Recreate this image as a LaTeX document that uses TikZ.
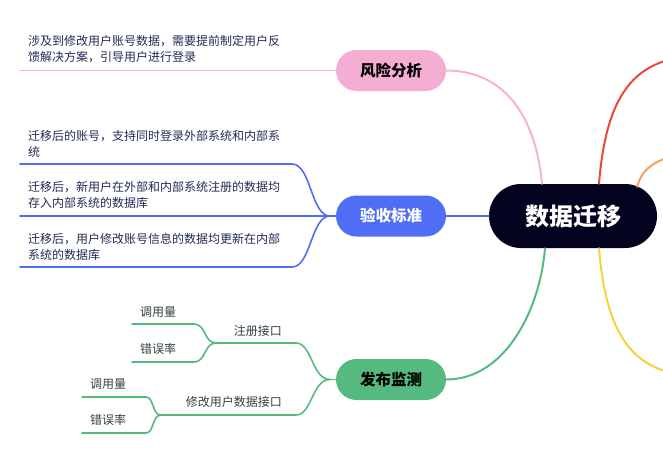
\documentclass[tikz,border=0pt]{standalone}
\usepackage{fontspec}
\setmainfont{Noto Sans CJK SC}
\usetikzlibrary{calc}
\definecolor{centerc}{HTML}{03031F}
\definecolor{pinkc}{HTML}{F4AED4}
\definecolor{pinkl}{HTML}{F5B2D7}
\definecolor{bluec}{HTML}{4F6EF5}
\definecolor{greenc}{HTML}{55BA80}
\definecolor{redc}{HTML}{E84A3A}
\definecolor{orangec}{HTML}{F0A455}
\definecolor{yellowc}{HTML}{F2D43E}
\definecolor{leafc}{HTML}{222A55}
\definecolor{subc}{HTML}{334238}
\begin{document}
\begin{tikzpicture}[x=1pt,y=-1pt]
\tikzset{
 topic/.style={rounded corners=20.5pt, minimum width=110pt, minimum height=41pt, inner sep=0pt, font=\fontsize{15.5}{18}\selectfont\bfseries},
 leaf/.style={anchor=west, align=left, inner sep=0pt, text=leafc, font=\fontsize{12}{16}\selectfont},
 sublabel/.style={inner sep=0pt, text=subc, font=\fontsize{12}{14}\selectfont},
 branch/.style={line width=2pt, line cap=round},
 twig/.style={line width=1.6pt, line cap=round},
}
\useasboundingbox (0,0) rectangle (663,458);

% main nodes
\node[fill=centerc, text=white, rounded corners=32pt, minimum width=168pt, minimum height=64pt, inner sep=0pt, font=\fontsize{24}{28}\selectfont\bfseries] (root) at (573,216) {数据迁移};
\node[topic, fill=pinkc] (risk) at (391,70.5) {风险分析};
\node[topic, fill=bluec, text=white] (acc) at (391,216) {验收标准};
\node[topic, fill=greenc] (pub) at (391,379.5) {发布监测};

% off-canvas ends
\coordinate (redend) at (672,59);
\coordinate (orangeend) at (672,156);
\coordinate (yellowend) at (672,373);

% main branches
\draw[branch, pinkl] (risk.east) .. controls (500,70.5) and (535,110) .. ($(root.north)+(-31,0)$);
\draw[branch, bluec] (acc.east) -- (root.west);
\draw[branch, greenc] (pub.east) .. controls (505,379.5) and (540,310) .. ($(root.south)+(-28,0)$);
\draw[branch, redc] ($(root.north)+(26,0)$) .. controls (605,110) and (625,70) .. (redend);
\draw[branch, orangec] ($(root.north east)+(-20,3)$) .. controls (641,172) and (650,163) .. (orangeend);
\draw[branch, yellowc] ($(root.south)+(26,0)$) .. controls (605,322) and (625,362) .. (yellowend);

% risk leaf
\coordinate (r1) at (20,70.5);
\draw[twig, pinkl] (risk.west) -- (r1);
\node[leaf] (rt) at (28,49.5) {涉及到修改用户账号数据，需要提前制定用户反\\馈解决方案，引导用户进行登录};

% acceptance leaves
\coordinate (bj) at (330,216);
\coordinate (b1a) at (292,164);
\coordinate (b1) at (20,164);
\coordinate (b2) at (20,216);
\coordinate (b3a) at (292,267);
\coordinate (b3) at (20,267);
\draw[twig, bluec] (acc.west) -- (bj);
\draw[twig, bluec] (bj) .. controls (311,216) and (311,164) .. (b1a) -- (b1);
\draw[twig, bluec] (bj) -- (b2);
\draw[twig, bluec] (bj) .. controls (311,216) and (311,267) .. (b3a) -- (b3);
\node[leaf] (bt1) at (28,144) {迁移后的账号，支持同时登录外部系统和内部系\\统};
\node[leaf] (bt2) at (28,195) {迁移后，新用户在外部和内部系统注册的数据均\\存入内部系统的数据库};
\node[leaf] (bt3) at (28,246.5) {迁移后，用户修改账号信息的数据均更新在内部\\系统的数据库};

% publish monitoring
\coordinate (gj) at (330,379.5);
\coordinate (g1a) at (296,343);
\coordinate (g1) at (216,343);
\coordinate (g11a) at (194,324);
\coordinate (g11) at (132,324);
\coordinate (g12a) at (194,362);
\coordinate (g12) at (132,362);
\coordinate (g2a) at (296,415);
\coordinate (g2) at (161,415);
\coordinate (g21a) at (146,397);
\coordinate (g21) at (82,397);
\coordinate (g22a) at (146,433);
\coordinate (g22) at (82,433);
\draw[twig, greenc] (pub.west) -- (gj);
\draw[twig, greenc] (gj) .. controls (312,379.5) and (312,343) .. (g1a) -- (g1);
\draw[twig, greenc] (g1) .. controls (204,343) and (206,324) .. (g11a) -- (g11);
\draw[twig, greenc] (g1) .. controls (204,343) and (206,362) .. (g12a) -- (g12);
\draw[twig, greenc] (gj) .. controls (312,379.5) and (312,415) .. (g2a) -- (g2);
\draw[twig, greenc] (g2) .. controls (152,415) and (154,397) .. (g21a) -- (g21);
\draw[twig, greenc] (g2) .. controls (152,415) and (154,433) .. (g22a) -- (g22);

\node[sublabel, anchor=east] (reg) at (282,331) {注册接口};
\node[sublabel, anchor=east] (mod) at (282,402) {修改用户数据接口};
\node[sublabel, anchor=west] (reg1) at (140,312) {调用量};
\node[sublabel, anchor=west] (reg2) at (140,349) {错误率};
\node[sublabel, anchor=west] (mod1) at (90,384) {调用量};
\node[sublabel, anchor=west] (mod2) at (90,420) {错误率};
\end{tikzpicture}
\end{document}
